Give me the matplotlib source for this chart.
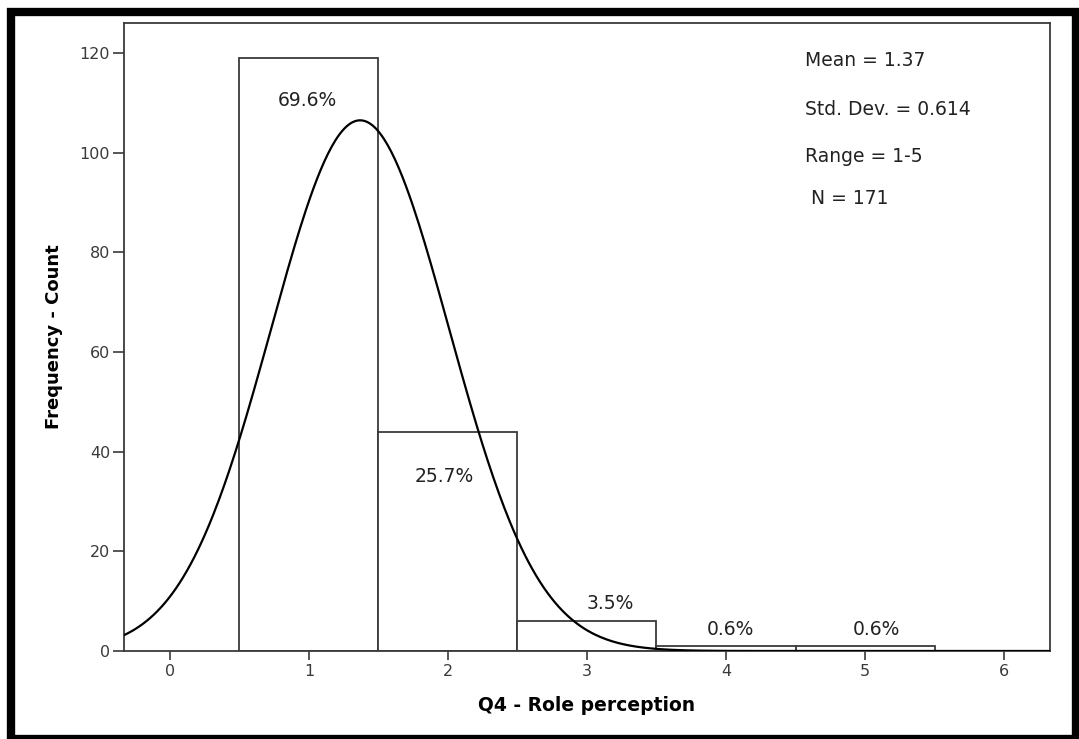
import numpy as np
import matplotlib.pyplot as plt
from matplotlib.patches import Rectangle

# Q4 - Role perception, response counts per answer value
values = [1, 2, 3, 4, 5]
counts = [119, 44, 6, 1, 1]

stats_lines = ["Mean = 1.37", "Std. Dev. = 0.614", "Range = 1-5", " N = 171"]

# where the percent labels sit (x, y in data units)
label_pos = [(0.99, 110.5), (1.97, 35.0), (3.17, 9.6), (4.03, 4.4), (5.08, 4.4)]

plt.rcParams['font.family'] = ['DejaVu Sans']

fig = plt.figure(figsize=(10.79, 7.39), dpi=100)
ax = fig.add_axes([0.1149, 0.1191, 0.9731 - 0.1149, 0.9689 - 0.1191])

edge = '#3a3a3a'
ax.bar(values, counts, width=1.0, color='white', edgecolor=edge, linewidth=1.3, zorder=2)

# normal curve fitted to the data
x = np.repeat(values, counts)
mu, sd = x.mean(), x.std(ddof=1)
n = len(x)
xs = np.linspace(-0.33, 6.33, 500)
ys = n / (sd * np.sqrt(2 * np.pi)) * np.exp(-0.5 * ((xs - mu) / sd) ** 2)
ax.plot(xs, ys, color='black', linewidth=1.6, zorder=3)

for (px, py), c in zip(label_pos, counts):
    ax.text(px, py, f"{c / n * 100:.1f}%", ha='center', va='center',
            fontsize=13.5, color='#222222', zorder=4)

stat_y = [0.941, 0.863, 0.788, 0.721]
for s, sy in zip(stats_lines, stat_y):
    ax.text(0.735, sy, s, transform=ax.transAxes, ha='left', va='center',
            fontsize=13.5, color='#222222')

ax.set_xlim(-0.33, 6.33)
ax.set_ylim(0, 126)
ax.set_xticks(range(0, 7))
ax.set_yticks(range(0, 121, 20))
ax.tick_params(axis='x', length=6.5, width=1.2, pad=3, labelsize=11.5, colors=edge)
ax.tick_params(axis='y', length=8, width=1.2, pad=2, labelsize=11.5, colors=edge)
for sp in ax.spines.values():
    sp.set_color(edge)
    sp.set_linewidth(1.3)

ax.set_xlabel("Q4 - Role perception", fontsize=13.5, fontweight='bold', labelpad=12)
ax.set_ylabel("Frequency - Count", fontsize=13, fontweight='bold', labelpad=12)

# thick black frame round the whole picture
fig.patches.append(Rectangle((11 / 1079, 0.0), (1075.5 - 11) / 1079, (739 - 11.5) / 739,
                             transform=fig.transFigure, fill=False,
                             edgecolor='black', linewidth=6, zorder=10))

fig.savefig("out.png", dpi=100)
